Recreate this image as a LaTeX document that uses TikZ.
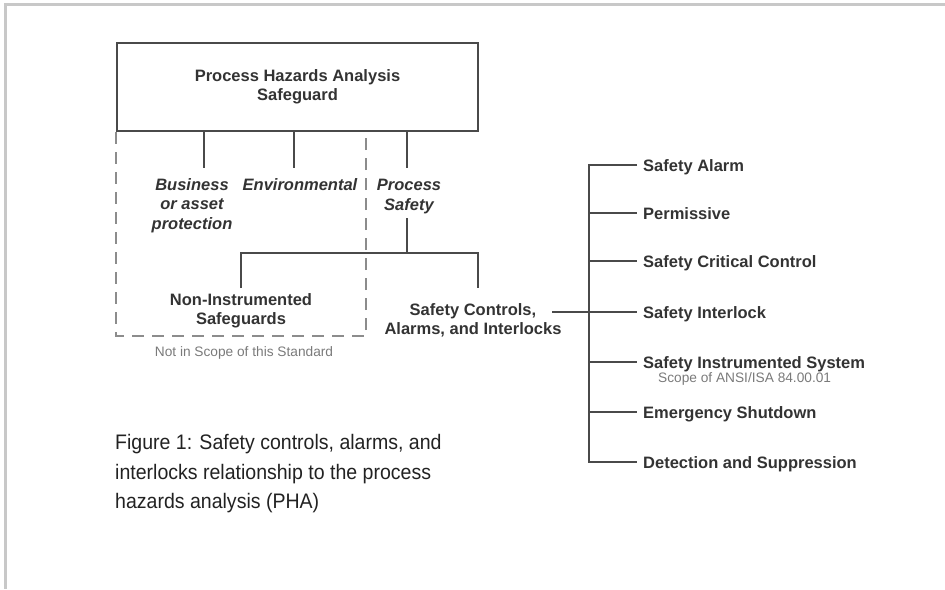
\documentclass[tikz,border=0pt]{standalone}
\usepackage{fontspec}
\setmainfont{Liberation Sans}
\newfontfamily\captionfont[FakeStretch=0.93]{Liberation Sans}
\definecolor{linegray}{HTML}{4A4A4A}
\definecolor{textdark}{HTML}{333333}
\definecolor{dashgray}{HTML}{8C8C8C}
\definecolor{notegray}{HTML}{7A7A7A}
\definecolor{framegray}{HTML}{C8C8C8}
\definecolor{captiontext}{HTML}{222222}
\tikzset{
  safeguard box/.style={
    rectangle,
    minimum width=361pt,
    minimum height=88pt,
    inner sep=0pt,
    line width=2.4pt,
    draw=linegray,
    align=center,
    text=textdark,
    font=\bfseries\fontsize{16.5}{19.5}\selectfont,
  },
  category/.style={
    align=center,
    inner sep=0pt,
    text=textdark,
    font=\bfseries\itshape\fontsize{16.5}{19.5}\selectfont,
  },
  branch/.style={
    align=center,
    inner sep=0pt,
    text=textdark,
    font=\bfseries\fontsize{16.5}{19}\selectfont,
  },
  control item/.style={
    anchor=west,
    inner xsep=6pt,
    inner ysep=0pt,
    text height=12pt,
    text depth=0pt,
    text=textdark,
    font=\bfseries\fontsize{16.5}{19.5}\selectfont,
  },
  scope note/.style={
    inner sep=0pt,
    text=notegray,
    font=\fontsize{13.7}{16}\selectfont,
  },
  link/.style={
    draw=linegray,
    line width=1.8pt,
  },
  scope line/.style={
    draw=dashgray,
    line width=1.8pt,
    dash pattern=on 12pt off 8pt,
  },
  page frame/.style={
    draw=framegray,
    line width=3pt,
  },
  caption text/.style={
    align=left,
    inner sep=0pt,
    text=captiontext,
    font=\captionfont\fontsize{21}{29.5}\selectfont,
  },
}
\begin{document}
\begin{tikzpicture}[x=1pt,y=-1pt]
  \useasboundingbox (0,0) rectangle (945,589);
  % Page frame.
  \draw[page frame] (945,4) -- (5,4) -- (5,589);

  % Top safeguard.
  \node[safeguard box] (pha) at (297.5,87) {Process Hazards Analysis\\Safeguard};

  % Categories below the safeguard (base = last line).
  \node[category, anchor=base] (biz) at (192,229) {Business\\or asset\\protection};
  \node[category, anchor=base] (env) at (300,190) {Environmental};
  \node[category, anchor=base] (psafe) at (409,210) {Process\\Safety};

  \coordinate (bizstem) at (204,168);
  \coordinate (envstem) at (294,168);
  \coordinate (psstem) at (407,168);
  \foreach \stem in {bizstem,envstem,psstem}{
    \draw[link] (\stem |- pha.south) -- (\stem);
  }

  % Region outside the standard.
  \coordinate (scopecorner) at (366,336);
  \draw[scope line] (pha.south west) |- (scopecorner) -- (scopecorner |- pha.south);
  \node[scope note, anchor=base] (notscope) at (244,356) {Not in Scope of this Standard};

  % Process safety split.
  \node[branch, anchor=base] (nis) at (241,324) {Non-Instrumented\\Safeguards};
  \node[branch, anchor=base] (scai) at (473,334) {Safety Controls,\\Alarms, and Interlocks};
  \coordinate (psfoot) at (407,218);
  \coordinate (psjoin) at (407,253);
  \coordinate (nisstem) at (241,288);
  \coordinate (scaistem) at (478,288);
  \draw[link] (psfoot) -- (psjoin);
  \draw[link] (nisstem) |- (psjoin) -| (scaistem);

  % Safety functions.
  \foreach \fname/\fy/\ftext in {alarm/165/Safety Alarm,permissive/213/Permissive,
      critical/261/Safety Critical Control,interlock/312/Safety Interlock,
      sis/362/Safety Instrumented System,esd/412/Emergency Shutdown,
      detect/462/Detection and Suppression}{
    \node[control item] (\fname) at (637,\fy) {\ftext};
  }
  \node[scope note, anchor=base west] (ansi) at (658,382) {Scope of ANSI/ISA 84.00.01};

  \coordinate (spine) at (589,0);
  \draw[link] (alarm.west) -- (alarm.west -| spine) -- (detect.west -| spine) -- (detect.west);
  \foreach \fname in {permissive,critical,sis,esd}{
    \draw[link] (\fname.west -| spine) -- (\fname.west);
  }
  \coordinate (scaiout) at (552,312);
  \draw[link] (scaiout) -- (interlock.west);

  % Caption.
  \node[caption text, anchor=base west] (figcap) at (115,508.5)
    {Figure 1: Safety controls, alarms, and\\interlocks relationship to the process\\hazards analysis (PHA)};
\end{tikzpicture}
\end{document}
